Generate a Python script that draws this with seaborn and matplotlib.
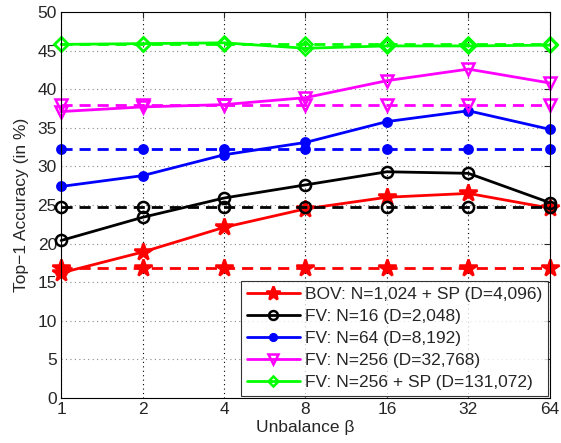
import numpy as np
import pandas as pd
import matplotlib
matplotlib.use("Agg")
import matplotlib.pyplot as plt
import seaborn as sns

# unbalance factor beta
beta = [1, 2, 4, 8, 16, 32, 64]

# top-1 accuracy (in %) per encoding, solid = unbalanced, dashed = baseline
bov_sp = [16.2, 18.9, 22.1, 24.5, 26.0, 26.5, 24.6]
fv16 = [20.4, 23.4, 25.9, 27.6, 29.3, 29.1, 25.3]
fv64 = [27.4, 28.8, 31.5, 33.1, 35.8, 37.2, 34.8]
fv256 = [37.1, 37.7, 38.0, 38.9, 41.1, 42.6, 40.8]
fv256_sp = [45.8, 45.9, 46.0, 45.3, 45.6, 45.6, 45.7]

base_bov_sp = 16.9
base_fv16 = 24.7
base_fv64 = 32.3
base_fv256 = 37.9
base_fv256_sp = 45.9

labels = ["BOV: N=1,024 + SP (D=4,096)", "FV: N=16 (D=2,048)",
          "FV: N=64 (D=8,192)", "FV: N=256 (D=32,768)",
          "FV: N=256 + SP (D=131,072)"]
yticks = [0, 5, 10, 15, 20, 25, 30, 35, 40, 45, 50]

sns.set_style("white")
plt.rcParams['font.family'] = ['Liberation Sans', 'DejaVu Sans']
FS = 12.5

series = [
    (bov_sp, base_bov_sp, "#ff0000", "*", 13, "#ff0000"),
    (fv16, base_fv16, "#000000", "o", 8, "none"),
    (fv64, base_fv64, "#0000ff", "o", 6, "#0000ff"),
    (fv256, base_fv256, "#ff00ff", "v", 9, "none"),
    (fv256_sp, base_fv256_sp, "#00ff00", "D", 7, "none"),
]

fig = plt.figure(figsize=(5.61, 4.43), dpi=100)
ax = fig.add_axes([0.109, 0.1016, 0.871, 0.8714])

for (vals, base, col, mk, ms, mfc), lab in zip(series, labels):
    df = pd.DataFrame({"beta": beta, "acc": vals})
    dfb = pd.DataFrame({"beta": beta, "acc": [base] * len(beta)})
    sns.lineplot(data=dfb, x="beta", y="acc", ax=ax, color=col, lw=2,
                 linestyle=(0, (4, 2.5)), marker=mk, ms=ms, mfc=mfc, mec=col,
                 mew=1.8, label=None, clip_on=False)
    sns.lineplot(data=df, x="beta", y="acc", ax=ax, color=col, lw=2,
                 marker=mk, ms=ms, mfc=mfc, mec=col, mew=1.8, label=lab,
                 clip_on=False)

ax.set_xscale("log", base=2)
ax.set_xlim(1, 64)
ax.set_ylim(0, 50)
ax.set_xticks(beta)
ax.set_xticklabels([str(b) for b in beta])
ax.set_yticks(yticks)
ax.minorticks_off()
ax.xaxis.grid(True, color="black", linestyle=(0, (1, 3)), lw=0.8)
ax.yaxis.grid(True, color="#888888", linestyle=(0, (1, 3)), lw=0.8)
ax.tick_params(direction="in", length=4, labelsize=FS, width=0.8,
               top=True, right=True, pad=3)
for s in ax.spines.values():
    s.set_color("black")
    s.set_linewidth(0.8)
ax.set_xlabel("Unbalance β", fontsize=FS, labelpad=2)
ax.set_ylabel("Top\u22121 Accuracy (in %)", fontsize=FS, labelpad=6)

leg = ax.legend(loc="lower right", fontsize=FS, frameon=True, fancybox=False,
                edgecolor="black", borderaxespad=0.1, handlelength=3.0,
                labelspacing=0.4, borderpad=0.35, handletextpad=0.3,
                markerscale=0.8)
leg.get_frame().set_linewidth(0.8)

fig.savefig("out.png", dpi=100)
